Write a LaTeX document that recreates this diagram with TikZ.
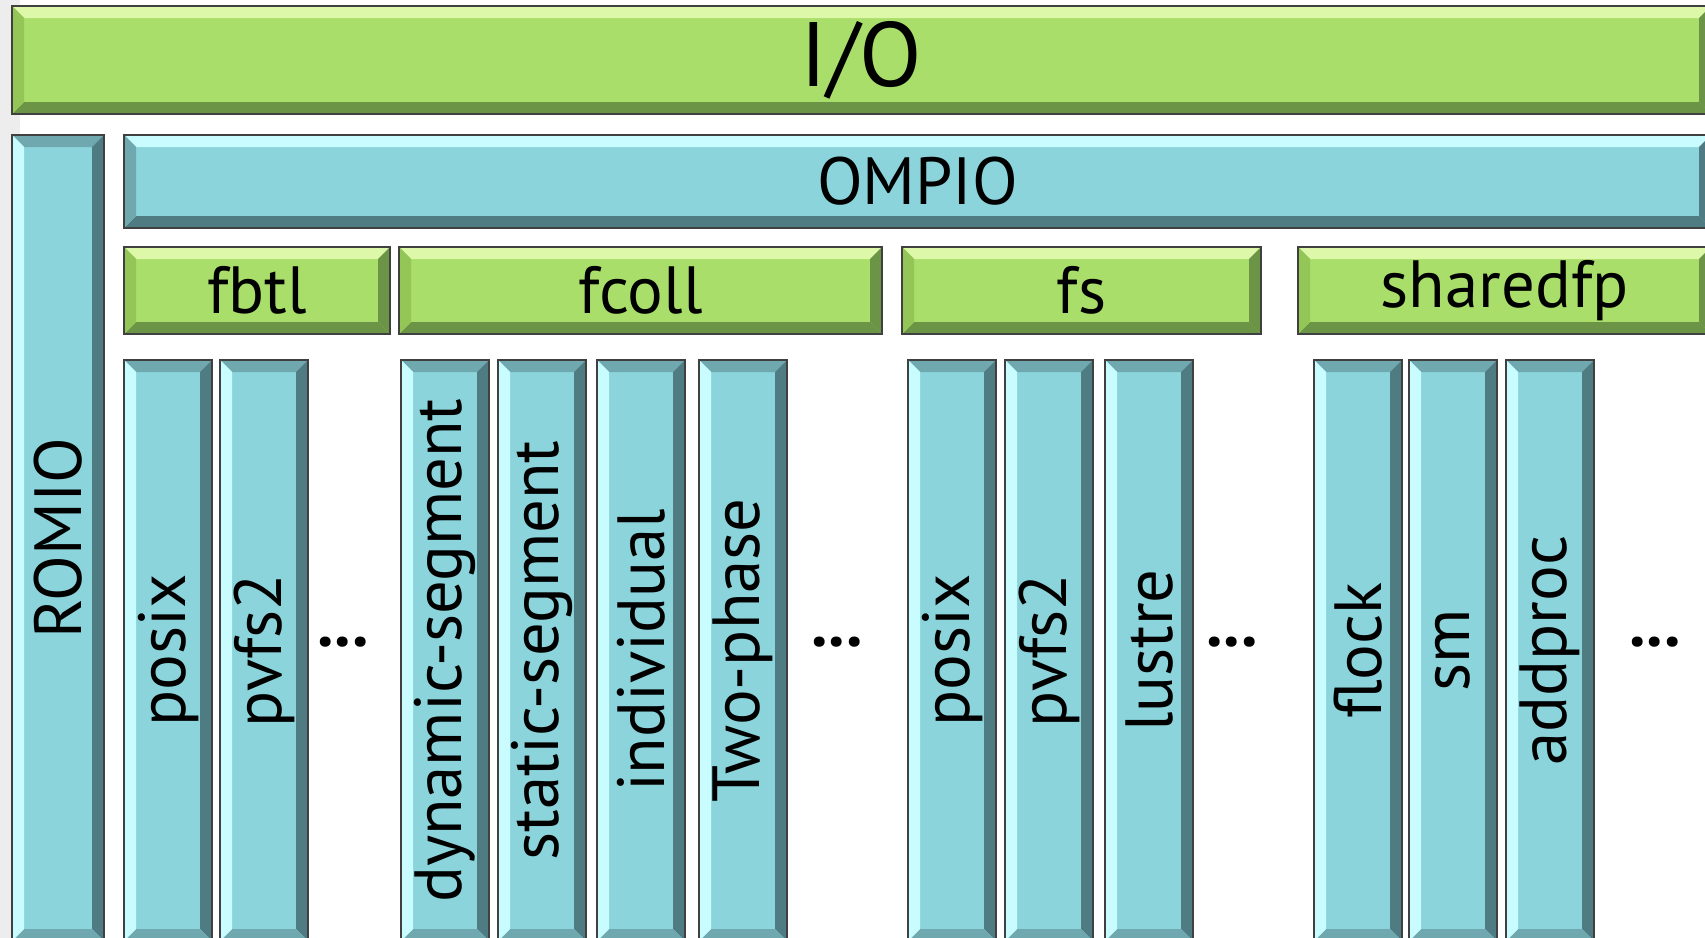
\documentclass[tikz,border=0pt]{standalone}
\usepackage{fontspec}
\setmainfont{PT Sans}
\usetikzlibrary{positioning}

\definecolor{limeface}{HTML}{A9DE6A}
\definecolor{limelight}{HTML}{DDF8A8}
\definecolor{limemid}{HTML}{93C656}
\definecolor{limedark}{HTML}{6C9446}
\definecolor{tealface}{HTML}{8BD4DB}
\definecolor{teallight}{HTML}{C8FCFF}
\definecolor{tealmid}{HTML}{6FA9AF}
\definecolor{tealdark}{HTML}{4F7C82}

\newlength\bevw \setlength\bevw{1.2mm}
% bevel faces: top, right, bottom, left
\newcommand\bevelsides[4]{%
  \fill[#1] (path picture bounding box.north west) -- (path picture bounding box.north east)
    -- ++(-\bevw,-\bevw) -- ([shift={(\bevw,-\bevw)}]path picture bounding box.north west) -- cycle;
  \fill[#2] (path picture bounding box.north east) -- (path picture bounding box.south east)
    -- ++(-\bevw,\bevw) -- ([shift={(-\bevw,-\bevw)}]path picture bounding box.north east) -- cycle;
  \fill[#3] (path picture bounding box.south east) -- (path picture bounding box.south west)
    -- ++(\bevw,\bevw) -- ([shift={(-\bevw,\bevw)}]path picture bounding box.south east) -- cycle;
  \fill[#4] (path picture bounding box.south west) -- (path picture bounding box.north west)
    -- ++(\bevw,-\bevw) -- ([shift={(\bevw,\bevw)}]path picture bounding box.south west) -- cycle;}

\begin{document}
\begin{tikzpicture}[x=0.1mm,y=-0.1mm,
  slab/.style={draw=black!75,line width=0.6pt,inner sep=0pt,anchor=north west,
    font=\fontsize{19}{22}\selectfont},
  hlime/.style={slab,fill=limeface,path picture={\bevelsides{limelight}{limedark}{limedark}{limemid}}},
  hteal/.style={slab,fill=tealface,path picture={\bevelsides{teallight}{tealdark}{tealdark}{tealmid}}},
  vteal/.style={slab,fill=tealface,minimum width=8.8mm,minimum height=58.1mm,
    path picture={\bevelsides{tealmid}{tealdark}{tealmid}{teallight}}},
  more/.style={font=\fontsize{19}{22}\selectfont\bfseries,inner sep=0pt}]
\useasboundingbox (0,0) rectangle (1705,938);
\fill[black!7] (0,0) rectangle (20,938);
% top layers
\node[hlime,minimum width=169.9mm,minimum height=10.8mm,font=\fontsize{26}{30}\selectfont] (io) at (11,5) {I/O};
\node[vteal,minimum width=9.2mm,minimum height=80.6mm] (romio) at (11,134) {\rotatebox{90}{ROMIO}};
\node[hteal,minimum width=158.7mm,minimum height=9.3mm] (ompio) at (123,134) {OMPIO};
% frameworks
\node[hlime,minimum width=26.6mm,minimum height=8.7mm] (fbtl) at (123,246) {fbtl};
\node[hlime,minimum width=48.3mm,minimum height=8.7mm] (fcoll) at (398,246) {fcoll};
\node[hlime,minimum width=35.9mm,minimum height=8.7mm] (fs) at (901,246) {fs};
\node[hlime,minimum width=41.3mm,minimum height=8.7mm] (sharedfp) at (1297,246) {sharedfp};
% components
\node[vteal] (fbtlposix) at (123,359) {\rotatebox{90}{posix}};
\node[vteal] (fbtlpvfs) at (219,359) {\rotatebox{90}{pvfs2}};
\node[more] (fbtlmore) at (343,642) {...};
\node[vteal] (dynseg) at (400,359) {\rotatebox{90}{dynamic-segment}};
\node[vteal] (statseg) at (497,359) {\rotatebox{90}{static-segment}};
\node[vteal] (indiv) at (596,359) {\rotatebox{90}{individual}};
\node[vteal] (twophase) at (698,359) {\rotatebox{90}{Two-phase}};
\node[more] (fcollmore) at (837,642) {...};
\node[vteal] (fsposix) at (907,359) {\rotatebox{90}{posix}};
\node[vteal] (fspvfs) at (1004,359) {\rotatebox{90}{pvfs2}};
\node[vteal] (lustre) at (1104,359) {\rotatebox{90}{lustre}};
\node[more] (fsmore) at (1232,642) {...};
\node[vteal] (flock) at (1313,359) {\rotatebox{90}{flock}};
\node[vteal] (sm) at (1408,359) {\rotatebox{90}{sm}};
\node[vteal] (addproc) at (1505,359) {\rotatebox{90}{addproc}};
\node[more] (sharedmore) at (1655,642) {...};
\end{tikzpicture}
\end{document}
